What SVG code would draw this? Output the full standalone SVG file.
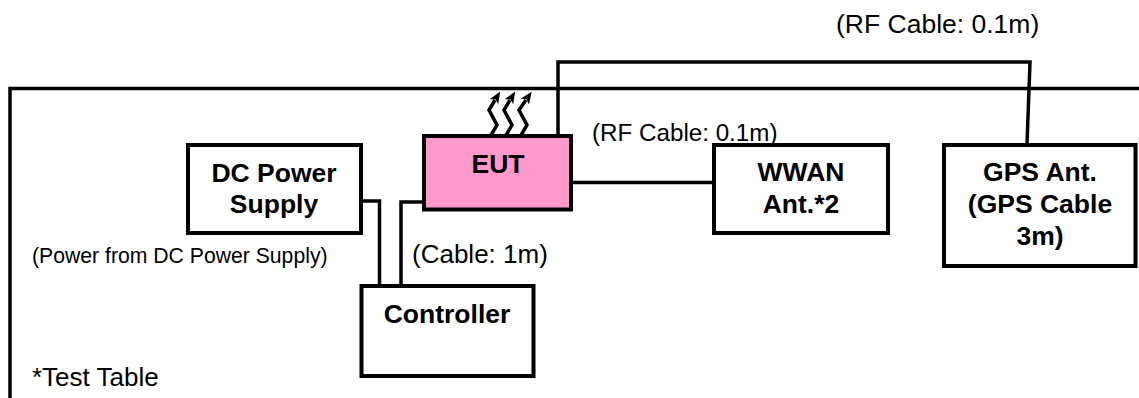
<svg xmlns="http://www.w3.org/2000/svg" width="1139" height="398" viewBox="0 0 1139 398">
<style>
text{font-family:"Liberation Sans",Arial,sans-serif;fill:#000}
.b{font-weight:bold;font-size:26.500px;text-anchor:middle}
.box{fill:#fff;stroke:#000;stroke-width:4}
.c{fill:none;stroke:#000;stroke-width:3.500}
.w{fill:none;stroke:#000;stroke-width:3.500}
.t{font-size:26px}
</style>
<defs><marker id="ah" markerWidth="12" markerHeight="10" refX="2" refY="5" orient="auto" markerUnits="userSpaceOnUse" viewBox="0 0 12 10"><path d="M0 0L12 5L0 10L3 5Z" fill="#000"/></marker></defs>
<rect width="1139" height="398" fill="#fff"/>
<g id="connectors">
<path class="c" d="M10 398V88.500H1139"/>
<path class="c" d="M558 136V62H1030L1027 144"/>
<path class="c" d="M571 182.500H714"/>
<path class="c" d="M361 201H379.500V286"/>
<path class="c" d="M424 202H401V286"/>
<path class="w" marker-end="url(#ah)" d="M490 137L497 125L489 110L495 100"/>
<path class="w" marker-end="url(#ah)" d="M505 137L512 125L504 110L510 100"/>
<path class="w" marker-end="url(#ah)" d="M520 137L527 125L519 110L526 100"/>
</g>
<text x="836" y="33" style="font-size:26.500px">(RF Cable: 0.1m)</text>
<text x="592" y="141" style="font-size:24.200px">(RF Cable: 0.1m)</text>
<text x="32" y="263" style="font-size:21.200px">(Power from DC Power Supply)</text>
<text class="t" x="412" y="263">(Cable: 1m)</text>
<text class="t" x="32" y="386">*Test Table</text>
<g id="dc-power"><rect class="box" x="188" y="145" width="173" height="88"/><text class="b" x="274" y="182">DC Power</text><text class="b" x="274" y="213">Supply</text></g>
<g id="eut"><rect class="box" x="424" y="136" width="147" height="73.500" style="fill:#ff99cc"/><text class="b" x="498" y="173">EUT</text></g>
<g id="wwan"><rect class="box" x="714" y="145" width="174" height="88"/><text class="b" x="801" y="181">WWAN</text><text class="b" x="801" y="213">Ant.*2</text></g>
<g id="gps"><rect class="box" x="944" y="145" width="191.500" height="121"/><text class="b" x="1040" y="181">GPS Ant.</text><text class="b" x="1040" y="213">(GPS Cable</text><text class="b" x="1040" y="245">3m)</text></g>
<g id="controller"><rect class="box" x="361.500" y="286" width="172" height="90"/><text class="b" x="447" y="323">Controller</text></g>
</svg>
